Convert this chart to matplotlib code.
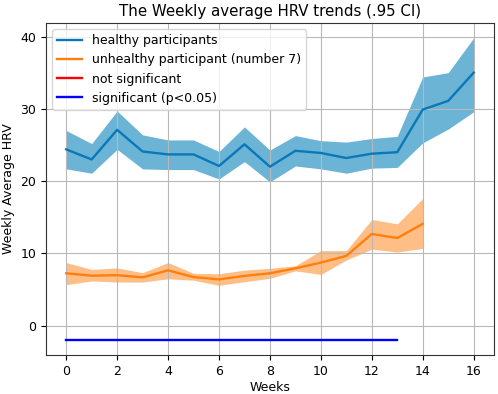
import matplotlib
matplotlib.use("Agg")
import matplotlib.pyplot as plt
import numpy as np

weeks_h = list(range(17))
healthy_mean = [24.4, 23.0, 27.1, 24.1, 23.7, 23.7, 22.1, 25.1, 22.0, 24.2, 23.9, 23.2, 23.8, 24.0, 29.9, 31.1, 35.0]
healthy_upper = [27.0, 25.2, 29.7, 26.4, 25.7, 25.7, 24.1, 27.5, 24.3, 26.3, 25.6, 25.4, 25.9, 26.2, 34.4, 35.0, 39.8]
healthy_lower = [21.7, 21.1, 24.4, 21.7, 21.6, 21.6, 20.3, 22.7, 19.9, 22.1, 21.7, 21.1, 21.8, 21.9, 25.3, 27.2, 29.6]

weeks_u = list(range(15))
unhealthy_mean = [7.26, 6.93, 7.0, 6.7, 7.67, 6.74, 6.42, 6.9, 7.26, 7.95, 8.74, 9.67, 12.7, 12.14, 14.1]
unhealthy_upper = [8.74, 7.8, 8.0, 7.35, 8.74, 7.26, 7.2, 7.7, 7.95, 8.3, 10.4, 10.4, 14.7, 14.1, 17.6]
unhealthy_lower = [5.7, 6.2, 6.05, 6.05, 6.5, 6.3, 5.6, 6.1, 6.56, 7.6, 7.1, 9.1, 10.6, 10.2, 10.7]

sig_weeks = [0, 13]
sig_level = [-2, -2]

plt.rcParams['font.size'] = 9
fig, ax = plt.subplots(figsize=(4.98, 3.94), dpi=100)
ax.fill_between(weeks_h, healthy_lower, healthy_upper, color='#0a82bc', alpha=0.6, linewidth=0)
ax.plot(weeks_h, healthy_mean, color='#0a78b8', lw=1.7, label='healthy participants')
ax.fill_between(weeks_u, unhealthy_lower, unhealthy_upper, color='#ff7f0e', alpha=0.5, linewidth=0)
ax.plot(weeks_u, unhealthy_mean, color='#ff7f0e', lw=1.7, label='unhealthy participant (number 7)')
ax.plot([], [], color='red', lw=1.7, label='not significant')
ax.plot(sig_weeks, sig_level, color='blue', lw=1.7, label='significant (p<0.05)')

ax.set_xticks(range(0, 17, 2))
ax.set_yticks([0, 10, 20, 30, 40])
ax.grid(True, color='#b8b8b8', lw=0.8)
ax.set_xlabel('Weeks', fontsize=9, labelpad=2)
ax.set_ylabel('Weekly Average HRV', fontsize=9)
ax.set_title('The Weekly average HRV trends (.95 CI)', fontsize=10.8, pad=5)
ax.legend(loc='upper left', fontsize=9)
for s in ax.spines.values():
    s.set_color('#333333')
fig.subplots_adjust(left=0.092, right=0.992, top=0.942, bottom=0.098)
fig.savefig('out.png', dpi=100)
